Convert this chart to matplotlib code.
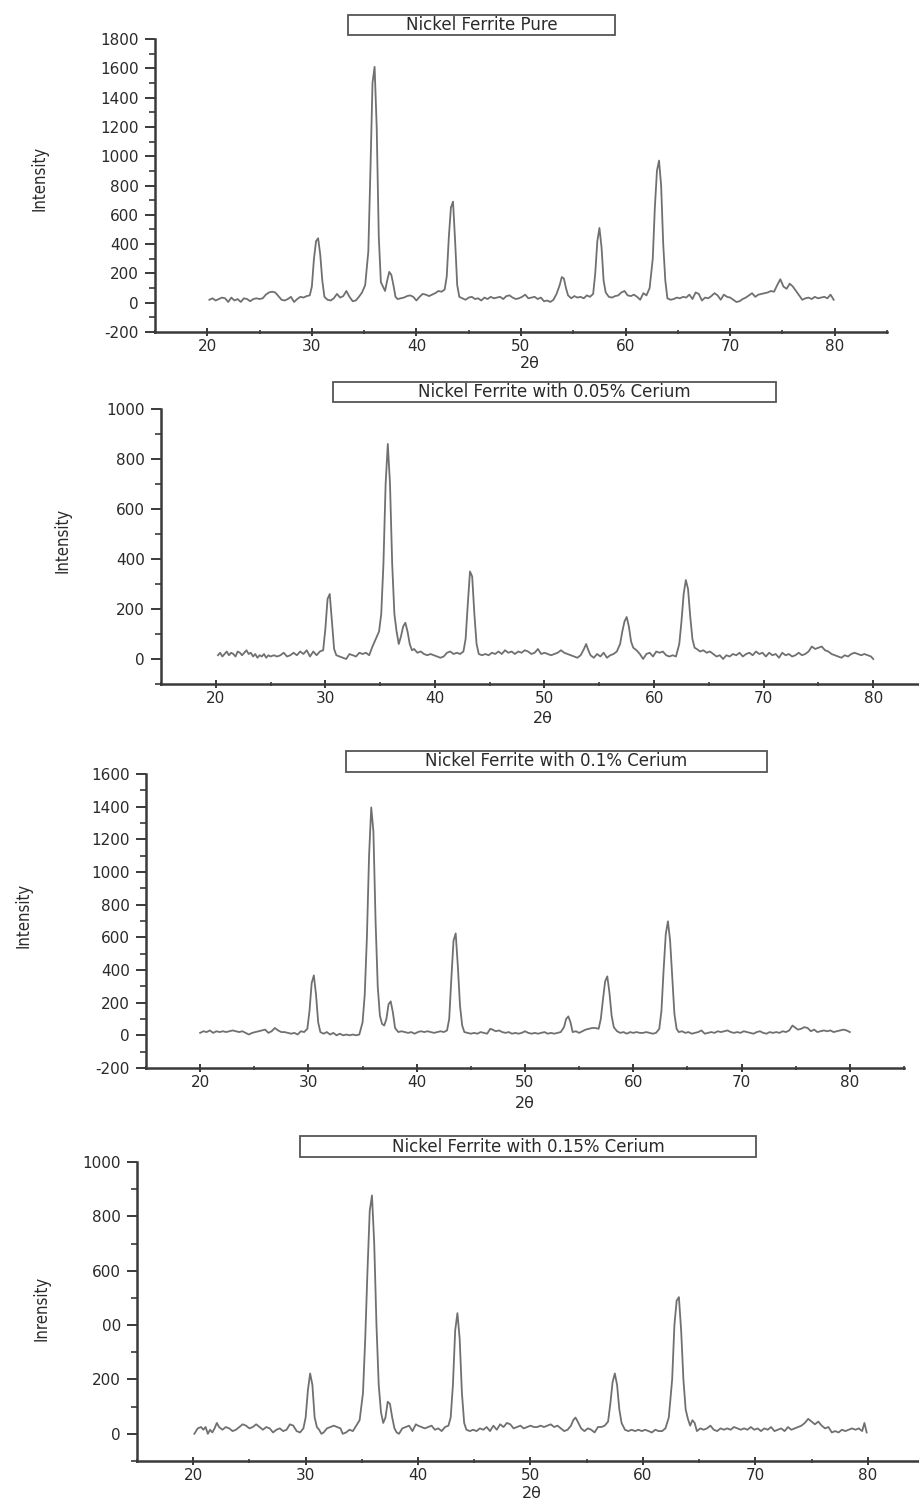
import matplotlib
matplotlib.use('Agg')
import matplotlib.pyplot as plt
from matplotlib.ticker import MultipleLocator, FixedLocator, FixedFormatter
from matplotlib.patches import Rectangle
import warnings
warnings.filterwarnings('ignore')

# ---------------- data ----------------
titles = ["Nickel Ferrite Pure",
          "Nickel Ferrite with 0.05% Cerium",
          "Nickel Ferrite with 0.1% Cerium",
          "Nickel Ferrite with 0.15% Cerium"]
ylabels = ["Intensity", "Intensity", "Intensity", "Inrensity"]
xlabel = "2\u03b8"

x_pure = [20.2, 20.5, 20.8, 21.1, 21.4, 21.7, 22.0, 22.3, 22.6, 22.9,
          23.2, 23.5, 23.8, 24.1, 24.4, 24.7, 25.0, 25.3, 25.6, 25.9,
          26.2, 26.5, 26.8, 27.1, 27.4, 27.7, 28.0, 28.3, 28.6, 28.9,
          29.2, 29.5, 29.8, 30.0, 30.2, 30.4, 30.6, 30.8, 31.0, 31.2,
          31.5, 31.8, 32.1, 32.4, 32.7, 33.0, 33.3, 33.6, 33.9, 34.2,
          34.5, 34.8, 35.1, 35.4, 35.6, 35.8, 36.0, 36.2, 36.4, 36.6,
          36.8, 37.0, 37.2, 37.4, 37.6, 37.8, 38.0, 38.2, 38.5, 38.8,
          39.1, 39.4, 39.7, 40.0, 40.3, 40.6, 40.9, 41.2, 41.5, 41.8,
          42.1, 42.4, 42.7, 42.9, 43.1, 43.3, 43.5, 43.7, 43.9, 44.1,
          44.4, 44.7, 45.0, 45.3, 45.6, 45.9, 46.2, 46.5, 46.8, 47.1,
          47.4, 47.7, 48.0, 48.3, 48.6, 48.9, 49.2, 49.5, 49.8, 50.1,
          50.4, 50.7, 51.0, 51.3, 51.6, 51.9, 52.2, 52.5, 52.8, 53.1,
          53.4, 53.7, 53.9, 54.1, 54.3, 54.5, 54.8, 55.1, 55.4, 55.7,
          56.0, 56.3, 56.6, 56.9, 57.1, 57.3, 57.5, 57.7, 57.9, 58.1,
          58.4, 58.7, 59.0, 59.3, 59.6, 59.9, 60.2, 60.5, 60.8, 61.1,
          61.4, 61.7, 62.0, 62.3, 62.6, 62.8, 63.0, 63.2, 63.4, 63.6,
          63.8, 64.0, 64.3, 64.6, 64.9, 65.2, 65.5, 65.8, 66.1, 66.4,
          66.7, 67.0, 67.3, 67.6, 67.9, 68.2, 68.5, 68.8, 69.1, 69.4,
          69.7, 70.0, 70.3, 70.6, 70.9, 71.2, 71.5, 71.8, 72.1, 72.4,
          72.7, 73.0, 73.3, 73.6, 73.9, 74.2, 74.5, 74.8, 75.1, 75.4,
          75.7, 76.0, 76.3, 76.6, 76.9, 77.2, 77.5, 77.8, 78.1, 78.4,
          78.7, 79.0, 79.3, 79.6, 79.9]
y_pure = [20, 30, 15, 25, 35, 30, 5, 35, 15, 25,
          5, 30, 25, 10, 25, 30, 25, 30, 55, 70,
          75, 70, 45, 20, 15, 25, 40, 5, 25, 40,
          35, 45, 50, 110, 300, 420, 440, 330, 150, 40,
          20, 15, 30, 60, 35, 45, 80, 40, 10, 15,
          40, 70, 120, 350, 900, 1500, 1610, 1200, 450, 140,
          110, 80, 150, 210, 190, 120, 40, 25, 30, 35,
          45, 50, 40, 15, 40, 60, 55, 45, 55, 65,
          80, 75, 90, 180, 450, 650, 690, 420, 120, 40,
          30, 20, 35, 40, 25, 30, 15, 35, 25, 40,
          30, 35, 40, 25, 45, 50, 35, 25, 30, 40,
          55, 30, 35, 40, 25, 35, 10, 15, 5, 20,
          60, 120, 175, 165, 100, 50, 30, 45, 35, 40,
          30, 50, 40, 60, 200, 420, 510, 380, 150, 70,
          40, 35, 45, 50, 70, 80, 50, 45, 55, 40,
          20, 65, 50, 100, 300, 650, 900, 970, 800, 400,
          150, 30, 20, 25, 35, 30, 40, 35, 55, 25,
          70, 60, 15, 35, 30, 45, 65, 50, 20, 55,
          40, 35, 20, 5, 10, 25, 35, 50, 65, 40,
          55, 60, 65, 70, 80, 75, 120, 160, 110, 95,
          130, 110, 80, 50, 20, 30, 35, 25, 40, 30,
          35, 40, 30, 55, 20]

x_ce005 = [20.2, 20.4, 20.6, 20.8, 21.0, 21.2, 21.4, 21.6, 21.8, 22.0,
           22.2, 22.4, 22.6, 22.8, 23.0, 23.2, 23.4, 23.6, 23.8, 24.0,
           24.2, 24.4, 24.6, 24.8, 25.0, 25.3, 25.6, 25.9, 26.2, 26.5,
           26.8, 27.1, 27.4, 27.7, 28.0, 28.3, 28.6, 28.9, 29.2, 29.5,
           29.8, 30.0, 30.2, 30.4, 30.6, 30.8, 31.0, 31.3, 31.6, 31.9,
           32.2, 32.5, 32.8, 33.1, 33.4, 33.7, 34.0, 34.3, 34.6, 34.9,
           35.1, 35.3, 35.5, 35.7, 35.9, 36.1, 36.3, 36.5, 36.7, 36.9,
           37.1, 37.3, 37.5, 37.7, 37.9, 38.1, 38.4, 38.7, 39.0, 39.3,
           39.6, 39.9, 40.2, 40.5, 40.8, 41.1, 41.4, 41.7, 42.0, 42.3,
           42.6, 42.8, 43.0, 43.2, 43.4, 43.6, 43.8, 44.0, 44.3, 44.6,
           44.9, 45.2, 45.5, 45.8, 46.1, 46.4, 46.7, 47.0, 47.3, 47.6,
           47.9, 48.2, 48.5, 48.8, 49.1, 49.4, 49.7, 50.0, 50.3, 50.6,
           50.9, 51.2, 51.5, 51.8, 52.1, 52.4, 52.7, 53.0, 53.3, 53.6,
           53.8, 54.0, 54.2, 54.5, 54.8, 55.1, 55.4, 55.7, 56.0, 56.3,
           56.6, 56.9, 57.1, 57.3, 57.5, 57.7, 57.9, 58.1, 58.4, 58.7,
           59.0, 59.3, 59.6, 59.9, 60.2, 60.5, 60.8, 61.1, 61.4, 61.7,
           62.0, 62.3, 62.5, 62.7, 62.9, 63.1, 63.3, 63.5, 63.7, 63.9,
           64.2, 64.5, 64.8, 65.1, 65.4, 65.7, 66.0, 66.3, 66.6, 66.9,
           67.2, 67.5, 67.8, 68.1, 68.4, 68.7, 69.0, 69.3, 69.6, 69.9,
           70.2, 70.5, 70.8, 71.1, 71.4, 71.7, 72.0, 72.3, 72.6, 72.9,
           73.2, 73.5, 73.8, 74.1, 74.4, 74.7, 75.0, 75.3, 75.6, 75.9,
           76.2, 76.5, 76.8, 77.1, 77.4, 77.7, 78.0, 78.3, 78.6, 78.9,
           79.2, 79.5, 79.8, 80.0]
y_ce005 = [15, 25, 10, 20, 30, 15, 25, 20, 10, 30,
           25, 15, 25, 35, 20, 25, 10, 20, 5, 15,
           10, 20, 5, 15, 10, 15, 10, 15, 25, 10,
           15, 25, 15, 30, 20, 35, 10, 30, 15, 30,
           35, 120, 240, 260, 150, 40, 15, 10, 5, 0,
           20, 15, 10, 25, 20, 25, 15, 50, 80, 110,
           180, 380, 700, 860, 700, 380, 180, 110, 60, 90,
           130, 145, 110, 60, 35, 40, 25, 30, 20, 15,
           20, 15, 10, 5, 10, 25, 30, 20, 25, 20,
           30, 80, 220, 350, 330, 180, 60, 20, 15, 20,
           15, 25, 20, 30, 20, 35, 25, 30, 20, 30,
           25, 35, 30, 20, 25, 40, 20, 25, 20, 15,
           20, 25, 35, 25, 20, 15, 10, 5, 15, 40,
           60, 35, 15, 5, 20, 10, 25, 5, 15, 20,
           30, 60, 110, 150, 168, 130, 70, 45, 35, 20,
           0, 20, 25, 10, 30, 25, 30, 15, 10, 15,
           10, 60, 150, 260, 316, 280, 170, 80, 45, 40,
           30, 35, 25, 30, 20, 10, 15, 0, 15, 10,
           20, 15, 25, 10, 20, 25, 15, 30, 20, 25,
           10, 25, 15, 20, 5, 25, 15, 20, 10, 15,
           25, 15, 20, 30, 50, 40, 45, 50, 35, 30,
           20, 15, 10, 5, 15, 10, 20, 25, 20, 15,
           20, 15, 10, 0]

x_ce010 = [20.0, 20.3, 20.6, 20.9, 21.2, 21.5, 21.8, 22.1, 22.4, 22.7,
           23.0, 23.3, 23.6, 23.9, 24.2, 24.5, 24.8, 25.1, 25.4, 25.7,
           26.0, 26.3, 26.6, 26.9, 27.2, 27.5, 27.8, 28.1, 28.4, 28.7,
           29.0, 29.3, 29.6, 29.9, 30.1, 30.3, 30.5, 30.7, 30.9, 31.1,
           31.4, 31.7, 32.0, 32.3, 32.6, 32.9, 33.2, 33.5, 33.8, 34.1,
           34.4, 34.7, 35.0, 35.2, 35.4, 35.6, 35.8, 36.0, 36.2, 36.4,
           36.6, 36.8, 37.0, 37.2, 37.4, 37.6, 37.8, 38.0, 38.3, 38.6,
           38.9, 39.2, 39.5, 39.8, 40.1, 40.4, 40.7, 41.0, 41.3, 41.6,
           41.9, 42.2, 42.5, 42.8, 43.0, 43.2, 43.4, 43.6, 43.8, 44.0,
           44.2, 44.4, 44.7, 45.0, 45.3, 45.6, 45.9, 46.2, 46.5, 46.8,
           47.0, 47.3, 47.6, 47.9, 48.2, 48.5, 48.8, 49.1, 49.4, 49.7,
           50.0, 50.3, 50.6, 50.9, 51.2, 51.5, 51.8, 52.1, 52.4, 52.7,
           53.0, 53.3, 53.6, 53.8, 54.0, 54.2, 54.4, 54.7, 55.0, 55.3,
           55.6, 55.9, 56.2, 56.5, 56.8, 57.0, 57.2, 57.4, 57.6, 57.8,
           58.0, 58.2, 58.5, 58.8, 59.1, 59.4, 59.7, 60.0, 60.3, 60.6,
           60.9, 61.2, 61.5, 61.8, 62.1, 62.4, 62.6, 62.8, 63.0, 63.2,
           63.4, 63.6, 63.8, 64.0, 64.2, 64.5, 64.8, 65.1, 65.4, 65.7,
           66.0, 66.3, 66.6, 66.9, 67.2, 67.5, 67.8, 68.1, 68.4, 68.7,
           69.0, 69.3, 69.6, 69.9, 70.2, 70.5, 70.8, 71.1, 71.4, 71.7,
           72.0, 72.3, 72.6, 72.9, 73.2, 73.5, 73.8, 74.1, 74.4, 74.7,
           74.9, 75.2, 75.5, 75.8, 76.1, 76.4, 76.7, 77.0, 77.3, 77.6,
           77.9, 78.2, 78.5, 78.8, 79.1, 79.4, 79.7, 80.0]
y_ce010 = [15, 25, 20, 30, 15, 25, 20, 25, 20, 25,
           30, 25, 20, 25, 15, 5, 15, 20, 25, 30,
           35, 15, 25, 45, 30, 20, 20, 15, 10, 15,
           5, 25, 20, 40, 150, 320, 367, 250, 80, 20,
           10, 20, 5, 15, 0, 10, 0, 5, 0, 5,
           0, 5, 80, 250, 600, 1100, 1395, 1250, 700, 300,
           120, 70, 60, 100, 190, 208, 140, 45, 20, 25,
           20, 15, 20, 10, 20, 25, 20, 25, 20, 15,
           20, 25, 20, 30, 100, 350, 580, 624, 420, 180,
           60, 20, 15, 10, 15, 10, 20, 15, 10, 40,
           35, 25, 30, 20, 15, 20, 10, 15, 10, 15,
           25, 15, 10, 15, 10, 15, 20, 10, 15, 10,
           15, 20, 50, 100, 116, 80, 20, 25, 15, 25,
           35, 40, 45, 45, 40, 100, 220, 330, 361, 260,
           120, 50, 25, 15, 20, 10, 20, 15, 20, 15,
           15, 20, 15, 10, 15, 40, 150, 400, 620, 698,
           580, 350, 130, 40, 20, 25, 15, 20, 10, 15,
           20, 30, 10, 15, 20, 15, 25, 20, 25, 30,
           20, 15, 20, 15, 25, 20, 15, 10, 20, 25,
           15, 10, 20, 15, 20, 15, 25, 20, 30, 60,
           50, 35, 40, 50, 45, 25, 35, 20, 25, 30,
           25, 30, 20, 25, 30, 35, 30, 20]

x_ce015 = [20.1, 20.4, 20.7, 20.9, 21.1, 21.3, 21.5, 21.7, 21.9, 22.1,
           22.3, 22.6, 22.9, 23.2, 23.5, 23.8, 24.1, 24.4, 24.7, 25.0,
           25.3, 25.6, 25.9, 26.2, 26.5, 26.8, 27.1, 27.4, 27.7, 28.0,
           28.3, 28.6, 28.9, 29.2, 29.5, 29.8, 30.0, 30.2, 30.4, 30.6,
           30.8, 31.0, 31.2, 31.4, 31.6, 31.9, 32.2, 32.5, 32.8, 33.1,
           33.3, 33.6, 33.9, 34.2, 34.5, 34.8, 35.1, 35.3, 35.5, 35.7,
           35.9, 36.1, 36.3, 36.5, 36.7, 36.9, 37.1, 37.3, 37.5, 37.7,
           37.9, 38.1, 38.3, 38.6, 38.9, 39.2, 39.5, 39.8, 40.0, 40.3,
           40.6, 40.9, 41.2, 41.5, 41.8, 42.1, 42.4, 42.7, 42.9, 43.1,
           43.3, 43.5, 43.7, 43.9, 44.1, 44.3, 44.6, 44.9, 45.2, 45.5,
           45.8, 46.1, 46.4, 46.7, 47.0, 47.3, 47.6, 47.9, 48.2, 48.5,
           48.8, 49.1, 49.4, 49.7, 50.0, 50.3, 50.6, 50.9, 51.2, 51.5,
           51.8, 52.1, 52.4, 52.7, 53.0, 53.3, 53.6, 53.8, 54.0, 54.2,
           54.5, 54.8, 55.1, 55.4, 55.7, 56.0, 56.3, 56.6, 56.9, 57.1,
           57.3, 57.5, 57.7, 57.9, 58.1, 58.4, 58.7, 59.0, 59.3, 59.6,
           59.9, 60.2, 60.5, 60.8, 61.1, 61.4, 61.7, 62.0, 62.3, 62.6,
           62.8, 63.0, 63.2, 63.4, 63.6, 63.8, 64.0, 64.2, 64.4, 64.6,
           64.8, 65.1, 65.4, 65.7, 66.0, 66.3, 66.6, 66.9, 67.2, 67.5,
           67.8, 68.1, 68.4, 68.7, 69.0, 69.3, 69.6, 69.9, 70.2, 70.5,
           70.8, 71.1, 71.4, 71.7, 72.0, 72.3, 72.6, 72.9, 73.2, 73.5,
           73.8, 74.1, 74.4, 74.7, 75.0, 75.3, 75.6, 75.9, 76.2, 76.5,
           76.8, 77.1, 77.4, 77.7, 78.0, 78.3, 78.6, 78.9, 79.2, 79.5,
           79.7, 79.9]
y_ce015 = [0, 20, 25, 15, 25, 0, 15, 5, 20, 40,
           25, 15, 25, 20, 10, 15, 25, 35, 30, 20,
           25, 35, 25, 15, 25, 20, 5, 15, 20, 10,
           15, 35, 30, 10, 5, 20, 60, 160, 222, 180,
           60, 25, 15, 0, 5, 20, 25, 30, 25, 20,
           0, 5, 15, 10, 30, 50, 150, 350, 600, 820,
           877, 700, 400, 180, 80, 40, 60, 118, 110, 60,
           20, 5, 0, 20, 25, 30, 10, 35, 30, 25,
           20, 25, 30, 15, 20, 10, 25, 30, 60, 180,
           380, 444, 350, 150, 40, 15, 10, 15, 10, 20,
           15, 25, 10, 30, 15, 35, 25, 40, 35, 20,
           25, 30, 20, 25, 30, 25, 25, 30, 25, 30,
           35, 25, 30, 20, 10, 15, 30, 50, 60, 45,
           20, 10, 20, 15, 5, 25, 25, 30, 45, 110,
           190, 222, 180, 90, 40, 15, 10, 15, 10, 15,
           10, 15, 10, 5, 15, 10, 10, 20, 60, 200,
           400, 490, 503, 380, 200, 90, 55, 30, 50, 40,
           10, 20, 15, 20, 30, 15, 10, 20, 15, 20,
           15, 25, 20, 15, 20, 15, 25, 15, 20, 10,
           20, 15, 25, 10, 15, 20, 10, 25, 15, 20,
           25, 30, 40, 55, 45, 35, 45, 30, 20, 25,
           5, 10, 5, 15, 10, 15, 20, 15, 20, 10,
           40, 5]

xs = [x_pure, x_ce005, x_ce010, x_ce015]
ys = [y_pure, y_ce005, y_ce010, y_ce015]

ylims = [(-200, 1800), (-100, 1000), (-200, 1600), (-100, 1000)]
ytick_vals = [[-200, 0, 200, 400, 600, 800, 1000, 1200, 1400, 1600, 1800],
              [0, 200, 400, 600, 800, 1000],
              [-200, 0, 200, 400, 600, 800, 1000, 1200, 1400, 1600],
              [0, 200, 400, 600, 800, 1000]]
ytick_text = [["-200", "0", "200", "400", "600", "800", "1000", "1200", "1400", "1600", "1800"],
              ["0", "200", "400", "600", "800", "1000"],
              ["-200", "0", "200", "400", "600", "800", "1000", "1200", "1400", "1600"],
              ["0", "200", "00", "600", "800", "1000"]]
xlim = (15, 85)

# ---------------- layout (pixels) ----------------
W, H = 920, 1499
axes_px = [(155, 39, 887, 332), (161, 409, 928, 684),
           (146, 774, 904, 1068), (137, 1162, 924, 1461)]
title_box_px = [(348, 15, 615, 35), (333, 382, 776, 402),
                (346, 751, 767, 772), (300, 1136, 756, 1157)]
ylabel_px = [(40, 178), (63, 540), (23, 915), (42, 1308)]
xlabel_px = [(530, 364), (543, 718), (525, 1104), (532, 1494)]

LINE = '#707070'
AXC = '#3a3a3a'
TXT = '#2a2a2a'

fig = plt.figure(figsize=(W / 100, H / 100), dpi=100)


def fx(p):
    return p / W


def fy(p):
    return 1 - p / H


narrow = ['Liberation Sans Narrow', 'DejaVu Sans']

for i in range(4):
    l, t, r, b = axes_px[i]
    ax = fig.add_axes([fx(l), fy(b), (r - l) / W, (b - t) / H])
    ax.plot(xs[i], ys[i], color=LINE, lw=1.3, solid_joinstyle='round')
    ax.set_xlim(*xlim)
    ax.set_ylim(*ylims[i])
    for s in ['top', 'right']:
        ax.spines[s].set_visible(False)
    for s in ['left', 'bottom']:
        ax.spines[s].set_color(AXC)
        ax.spines[s].set_linewidth(1.8)
    ax.xaxis.set_major_locator(MultipleLocator(10))
    ax.xaxis.set_minor_locator(MultipleLocator(5))
    ax.yaxis.set_major_locator(FixedLocator(ytick_vals[i]))
    ax.yaxis.set_major_formatter(FixedFormatter(ytick_text[i]))
    ax.yaxis.set_minor_locator(MultipleLocator(100))
    ax.tick_params(axis='y', which='major', direction='out', length=7.5, width=1.4,
                   color=AXC, labelsize=11, labelcolor=TXT, pad=4)
    ax.tick_params(axis='y', which='minor', direction='out', length=4, width=1.2, color=AXC)
    ax.tick_params(axis='x', which='major', direction='inout', length=6, width=1.4,
                   color=AXC, labelsize=11, labelcolor=TXT, pad=2)
    ax.tick_params(axis='x', which='minor', direction='inout', length=3, width=1.2, color=AXC)
    for lab in ax.get_xticklabels() + ax.get_yticklabels():
        lab.set_family('DejaVu Sans')

    # title box
    bl, bt, br, bb = title_box_px[i]
    fig.patches.append(Rectangle((fx(bl), fy(bb)), (br - bl) / W, (bb - bt) / H,
                                 transform=fig.transFigure, fill=False,
                                 edgecolor='#555555', lw=1.3))
    fig.text(fx((bl + br) / 2), fy((bt + bb) / 2), titles[i], ha='center', va='center',
             fontsize=12, color=TXT, family='DejaVu Sans')

    # axis labels
    yx, yy = ylabel_px[i]
    fig.text(fx(yx), fy(yy), ylabels[i], rotation=90, ha='center', va='center',
             fontsize=12, color=TXT, family=narrow, stretch='condensed')
    xx, xy = xlabel_px[i]
    fig.text(fx(xx), fy(xy), xlabel, ha='center', va='center', fontsize=11.5,
             color=TXT, family='DejaVu Sans')

fig.savefig('out.png', dpi=100)
